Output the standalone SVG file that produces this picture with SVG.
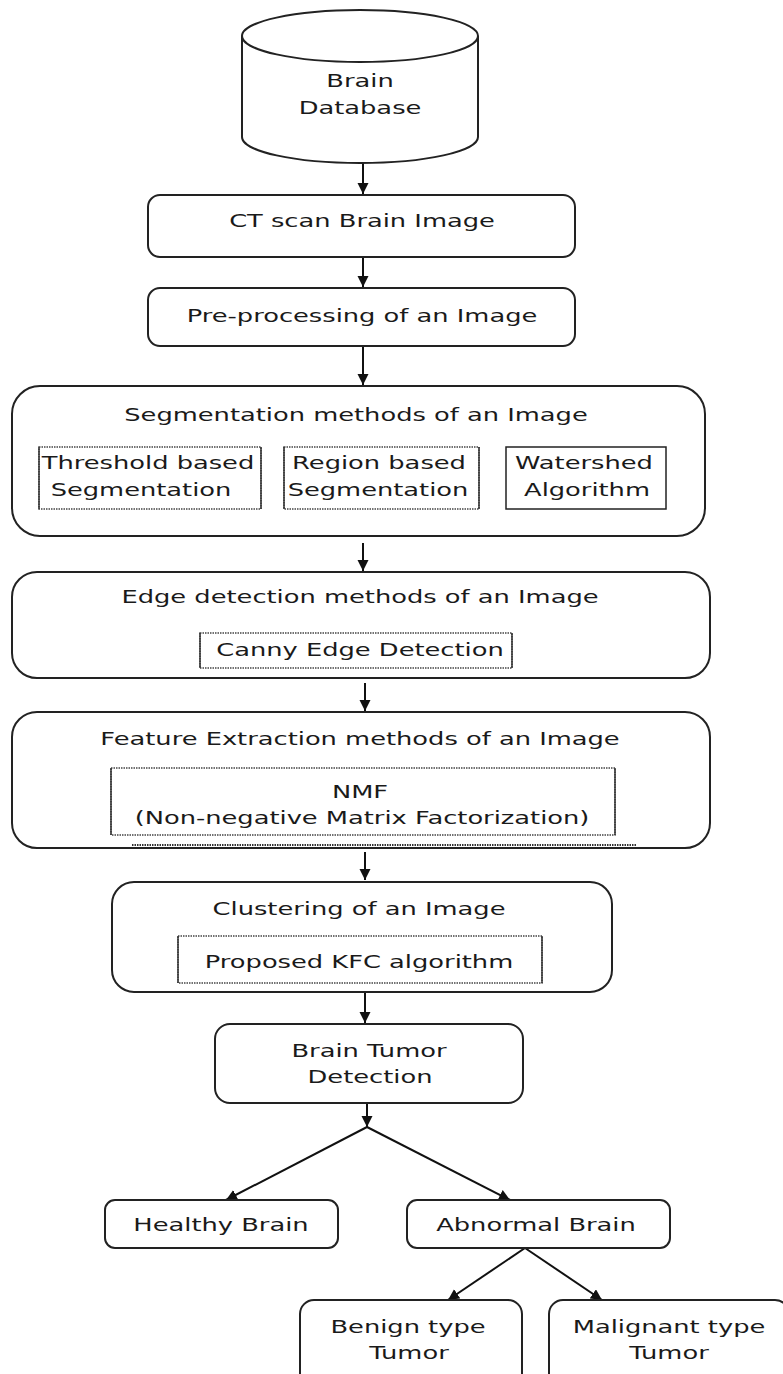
<svg xmlns="http://www.w3.org/2000/svg" width="783" height="1374" viewBox="0 0 783 1374">
<style>
.box{fill:#fff;stroke:#222;stroke-width:2}
.sub{fill:none;stroke:#444;stroke-width:1.5;stroke-dasharray:1.5 1}
.side{stroke:#333;stroke-width:1.5}
.t{font-family:"DejaVu Sans",Verdana,sans-serif;font-size:18px;fill:#1a1a1a;text-anchor:middle}
.c{stroke:#111;stroke-width:2;fill:none}
</style>
<defs>
<marker id="ah" markerWidth="12" markerHeight="12" refX="11" refY="5.5" orient="auto" markerUnits="userSpaceOnUse">
<path d="M0,0 L11,5.5 L0,11 z" fill="#111"/>
</marker>
</defs>
<rect width="783" height="1374" fill="#fff"/>
<g id="connectors">
<line class="c" x1="363" y1="163" x2="363" y2="194" marker-end="url(#ah)"/>
<line class="c" x1="363" y1="257" x2="363" y2="287" marker-end="url(#ah)"/>
<line class="c" x1="363" y1="346" x2="363" y2="385" marker-end="url(#ah)"/>
<line class="c" x1="363" y1="543" x2="363" y2="571" marker-end="url(#ah)"/>
<line class="c" x1="365" y1="683" x2="365" y2="711" marker-end="url(#ah)"/>
<line class="c" x1="365" y1="852" x2="365" y2="880" marker-end="url(#ah)"/>
<line class="c" x1="365" y1="993" x2="365" y2="1023" marker-end="url(#ah)"/>
<line class="c" x1="367" y1="1098" x2="367" y2="1127" marker-end="url(#ah)"/>
<line class="c" x1="367" y1="1127" x2="226" y2="1200" marker-end="url(#ah)"/>
<line class="c" x1="367" y1="1127" x2="510" y2="1200" marker-end="url(#ah)"/>
<line class="c" x1="525" y1="1248" x2="448" y2="1300" marker-end="url(#ah)"/>
<line class="c" x1="525" y1="1248" x2="602" y2="1300" marker-end="url(#ah)"/>
</g>
<g id="db">
<path class="box" d="M242,36 L242,137 A118,26 0 0 0 478,137 L478,36"/>
<ellipse class="box" cx="360" cy="36" rx="118" ry="26"/>
<text class="t" transform="translate(360,87) scale(1.43,1)">Brain</text>
<text class="t" transform="translate(360,114) scale(1.43,1)">Database</text>
</g>
<g id="ct">
<rect class="box" x="148" y="195" width="427" height="62" rx="12"/>
<text class="t" transform="translate(362,227) scale(1.43,1)">CT scan Brain Image</text>
</g>
<g id="pre">
<rect class="box" x="148" y="288" width="427" height="58" rx="12"/>
<text class="t" transform="translate(362,322) scale(1.43,1)">Pre-processing of an Image</text>
</g>
<g id="seg">
<rect class="box" x="12" y="386" width="693" height="150" rx="28"/>
<text class="t" transform="translate(356,421) scale(1.43,1)">Segmentation methods of an Image</text>
<g id="thr">
<rect class="sub" x="39" y="447" width="222" height="62"/>
<line class="side" x1="39" y1="447" x2="39" y2="509"/>
<line class="side" x1="261" y1="447" x2="261" y2="509"/>
<text class="t" transform="translate(148,469) scale(1.43,1)">Threshold based</text>
<text class="t" transform="translate(141,496) scale(1.43,1)">Segmentation</text>
</g>
<g id="reg">
<rect class="sub" x="284" y="447" width="195" height="62"/>
<line class="side" x1="284" y1="447" x2="284" y2="509"/>
<line class="side" x1="479" y1="447" x2="479" y2="509"/>
<text class="t" transform="translate(379,469) scale(1.43,1)">Region based</text>
<text class="t" transform="translate(378,496) scale(1.43,1)">Segmentation</text>
</g>
<g id="ws">
<rect class="box" style="stroke-width:1.5" x="506" y="447" width="160" height="62"/>
<text class="t" transform="translate(584,469) scale(1.43,1)">Watershed</text>
<text class="t" transform="translate(587,496) scale(1.43,1)">Algorithm</text>
</g>
</g>
<g id="edge">
<rect class="box" x="12" y="572" width="698" height="106" rx="25"/>
<text class="t" transform="translate(360,603) scale(1.43,1)">Edge detection methods of an Image</text>
<g id="canny">
<rect class="sub" x="200" y="633" width="312" height="35"/>
<line class="side" x1="200" y1="633" x2="200" y2="668"/>
<line class="side" x1="512" y1="633" x2="512" y2="668"/>
<text class="t" transform="translate(360,656) scale(1.43,1)">Canny Edge Detection</text>
</g>
</g>
<g id="feat">
<rect class="box" x="12" y="712" width="698" height="136" rx="25"/>
<text class="t" transform="translate(360,745) scale(1.43,1)">Feature Extraction methods of an Image</text>
<line x1="132" y1="845" x2="637" y2="845" stroke="#333" stroke-width="2" stroke-dasharray="1.5 1"/>
<g id="nmf">
<rect class="sub" x="111" y="768" width="504" height="67"/>
<line class="side" x1="111" y1="768" x2="111" y2="835"/>
<line class="side" x1="615" y1="768" x2="615" y2="835"/>
<text class="t" transform="translate(360,798) scale(1.43,1)">NMF</text>
<text class="t" transform="translate(362,824) scale(1.43,1)">(Non-negative Matrix Factorization)</text>
</g>
</g>
<g id="clus">
<rect class="box" x="112" y="882" width="500" height="110" rx="22"/>
<text class="t" transform="translate(359,915) scale(1.43,1)">Clustering of an Image</text>
<g id="kfc">
<rect class="sub" x="178" y="936" width="364" height="47"/>
<line class="side" x1="178" y1="936" x2="178" y2="983"/>
<line class="side" x1="542" y1="936" x2="542" y2="983"/>
<text class="t" transform="translate(359,968) scale(1.43,1)">Proposed KFC algorithm</text>
</g>
</g>
<g id="btd">
<rect class="box" x="215" y="1024" width="308" height="79" rx="15"/>
<text class="t" transform="translate(369,1057) scale(1.43,1)">Brain Tumor</text>
<text class="t" transform="translate(370,1083) scale(1.43,1)">Detection</text>
</g>
<g id="healthy">
<rect class="box" x="105" y="1200" width="233" height="48" rx="10"/>
<text class="t" transform="translate(221,1231) scale(1.43,1)">Healthy Brain</text>
</g>
<g id="abnormal">
<rect class="box" x="407" y="1200" width="263" height="48" rx="10"/>
<text class="t" transform="translate(536,1231) scale(1.43,1)">Abnormal Brain</text>
</g>
<g id="benign">
<rect class="box" x="300" y="1300" width="222" height="90" rx="14"/>
<text class="t" transform="translate(408,1333) scale(1.43,1)">Benign type</text>
<text class="t" transform="translate(409,1359) scale(1.43,1)">Tumor</text>
</g>
<g id="malignant">
<rect class="box" x="549" y="1300" width="240" height="90" rx="14"/>
<text class="t" transform="translate(669,1333) scale(1.43,1)">Malignant type</text>
<text class="t" transform="translate(669,1359) scale(1.43,1)">Tumor</text>
</g>
</svg>
